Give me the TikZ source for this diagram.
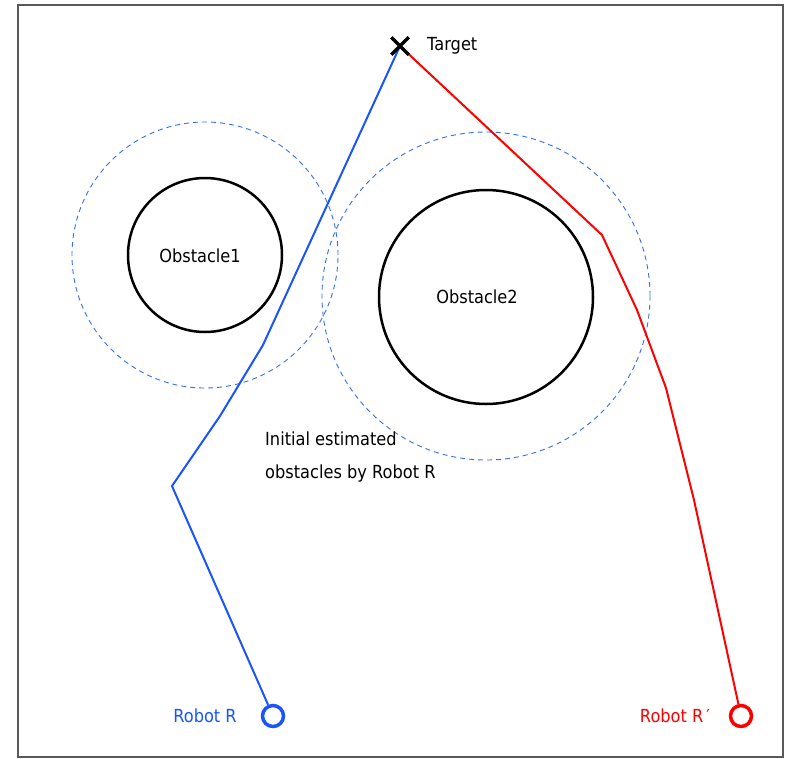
\documentclass[tikz,border=0pt]{standalone}
\usepackage{fontspec}
\setmainfont{DejaVu Sans}[FakeStretch=0.9]
\usepackage{tikz}
\usetikzlibrary{shapes.misc}
\definecolor{pathblue}{RGB}{25,85,250}
\definecolor{zoneblue}{RGB}{55,110,245}

\begin{document}
\begin{tikzpicture}[x=1pt,y=-1pt,font=\fontsize{18}{22}\selectfont]
	\useasboundingbox (0,0) rectangle (790,758);
	\fill [white] (0,0) rectangle (790,758);
	\draw [black!65, line width=1.5pt] (18,5) rectangle (783,757);
	
	\coordinate (o1) at (205,255);
	\coordinate (o2) at (486,297);
	\draw [line width=2.5pt] (o1) circle (77pt);
	\draw [line width=2.5pt] (o2) circle (107pt);
	\draw [zoneblue, line width=0.9pt, dash pattern=on 5pt off 4pt] (o1) circle (133pt);
	\draw [zoneblue, line width=0.9pt, dash pattern=on 5pt off 4pt] (486,296) circle (164pt);
	
	\node (obs1) at (200,256) {Obstacle1};
	\node (obs2) at (477,297) {Obstacle2};
	\node [anchor=west, align=left, inner sep=0pt, font=\fontsize{18}{33}\selectfont] (estimate) at (265,457) {Initial estimated\\obstacles by Robot R};
	
	\coordinate (target) at (400,46);
	\node [circle,draw=pathblue,line width=3.5pt,inner sep=0pt,minimum size=21pt] (robotR) at (273,716) {};
	\node [circle,draw=red,line width=3.5pt,inner sep=0pt,minimum size=21pt] (robotRp) at (741,716) {};
	
	\draw [pathblue, line width=2pt] (robotR) -- (172,486) -- (220,416) -- (263,345) -- (target);
	\draw [red, line width=2pt] (robotRp) -- (694,500) -- (666,388) -- (637,310) -- (602,235) -- (target);
	
	\node [cross out,draw=black,line width=3.5pt,inner sep=0pt,minimum size=14pt] (targetx) at (target) {};
	\node [anchor=west, inner sep=0pt] (targetlabel) at (427,46) {Target};
	
	\node [pathblue] (labelR) at (205,716) {Robot R};
	\node [red] (labelRp) at (675,716) {Robot R\,′};
\end{tikzpicture}
\end{document}
